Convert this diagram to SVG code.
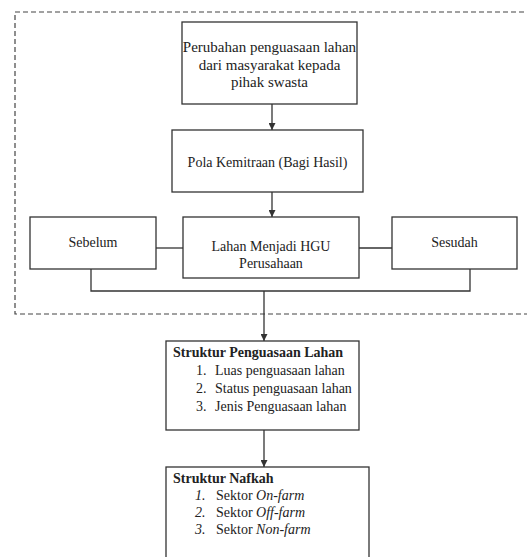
<svg xmlns="http://www.w3.org/2000/svg" width="527" height="557" viewBox="0 0 527 557" font-family="'Liberation Serif', 'DejaVu Serif', serif">
<style>
.box{fill:#fff;stroke:#333;stroke-width:1.3}
.ln{fill:none;stroke:#333;stroke-width:1.3}
.dash{fill:none;stroke:#444;stroke-width:1.2;stroke-dasharray:5 3}
text{font-family:'Liberation Serif','DejaVu Serif',serif;font-size:14px;fill:#222}
.c{text-anchor:middle}
.b{font-weight:bold}
.i{font-style:italic}
</style>
<defs>
<marker id="ah" viewBox="0 0 10 10" refX="10" refY="5" markerWidth="7" markerHeight="7" markerUnits="userSpaceOnUse" orient="auto">
<path d="M0,0 L10,5 L0,10 z" fill="#333"/>
</marker>
</defs>
<rect width="527" height="557" fill="#fff"/>
<rect class="dash" x="15" y="12" width="530" height="302"/>
<g id="connectors">
<line class="ln" x1="272" y1="104" x2="272" y2="130" marker-end="url(#ah)"/>
<line class="ln" x1="272" y1="192" x2="272" y2="217" marker-end="url(#ah)"/>
<line class="ln" x1="156" y1="248" x2="183" y2="248"/>
<line class="ln" x1="359" y1="248" x2="392" y2="248"/>
<polyline class="ln" points="91,269 91,291 470,291 470,269"/>
<line class="ln" x1="264" y1="291" x2="264" y2="341" marker-end="url(#ah)"/>
<line class="ln" x1="264" y1="430" x2="264" y2="467" marker-end="url(#ah)"/>
</g>
<g id="node-perubahan">
<rect class="box" x="182" y="22" width="175" height="82"/>
<text class="c" x="269.5" y="52" style="font-size:15px">Perubahan penguasaan lahan</text>
<text class="c" x="269.5" y="69.5" style="font-size:15px">dari masyarakat kepada</text>
<text class="c" x="269.5" y="87" style="font-size:15px">pihak swasta</text>
</g>
<g id="node-pola">
<rect class="box" x="172" y="130" width="191" height="62"/>
<text class="c" x="267.5" y="167">Pola Kemitraan (Bagi Hasil)</text>
</g>
<g id="node-sebelum">
<rect class="box" x="30" y="217" width="126" height="52"/>
<text class="c" x="93" y="247">Sebelum</text>
</g>
<g id="node-lahan">
<rect class="box" x="183" y="217" width="176" height="61"/>
<text class="c" x="271" y="251">Lahan Menjadi HGU</text>
<text class="c" x="271" y="268">Perusahaan</text>
</g>
<g id="node-sesudah">
<rect class="box" x="392" y="217" width="125" height="52"/>
<text class="c" x="454.5" y="247">Sesudah</text>
</g>
<g id="node-struktur-penguasaan">
<rect class="box" x="166" y="341" width="193" height="89"/>
<text class="b" x="173" y="357">Struktur Penguasaan Lahan</text>
<text x="196" y="375">1.</text><text x="215" y="375">Luas penguasaan lahan</text>
<text x="196" y="393">2.</text><text x="215" y="393">Status penguasaan lahan</text>
<text x="196" y="411">3.</text><text x="215" y="411">Jenis Penguasaan lahan</text>
</g>
<g id="node-struktur-nafkah">
<rect class="box" x="166" y="467" width="203" height="100"/>
<text class="b" x="173" y="483">Struktur Nafkah</text>
<text class="i" x="195" y="500">1.</text><text x="216" y="500">Sektor <tspan class="i">On-farm</tspan></text>
<text class="i" x="195" y="517">2.</text><text x="216" y="517">Sektor <tspan class="i">Off-farm</tspan></text>
<text class="i" x="195" y="534">3.</text><text x="216" y="534">Sektor <tspan class="i">Non-farm</tspan></text>
</g>
</svg>
